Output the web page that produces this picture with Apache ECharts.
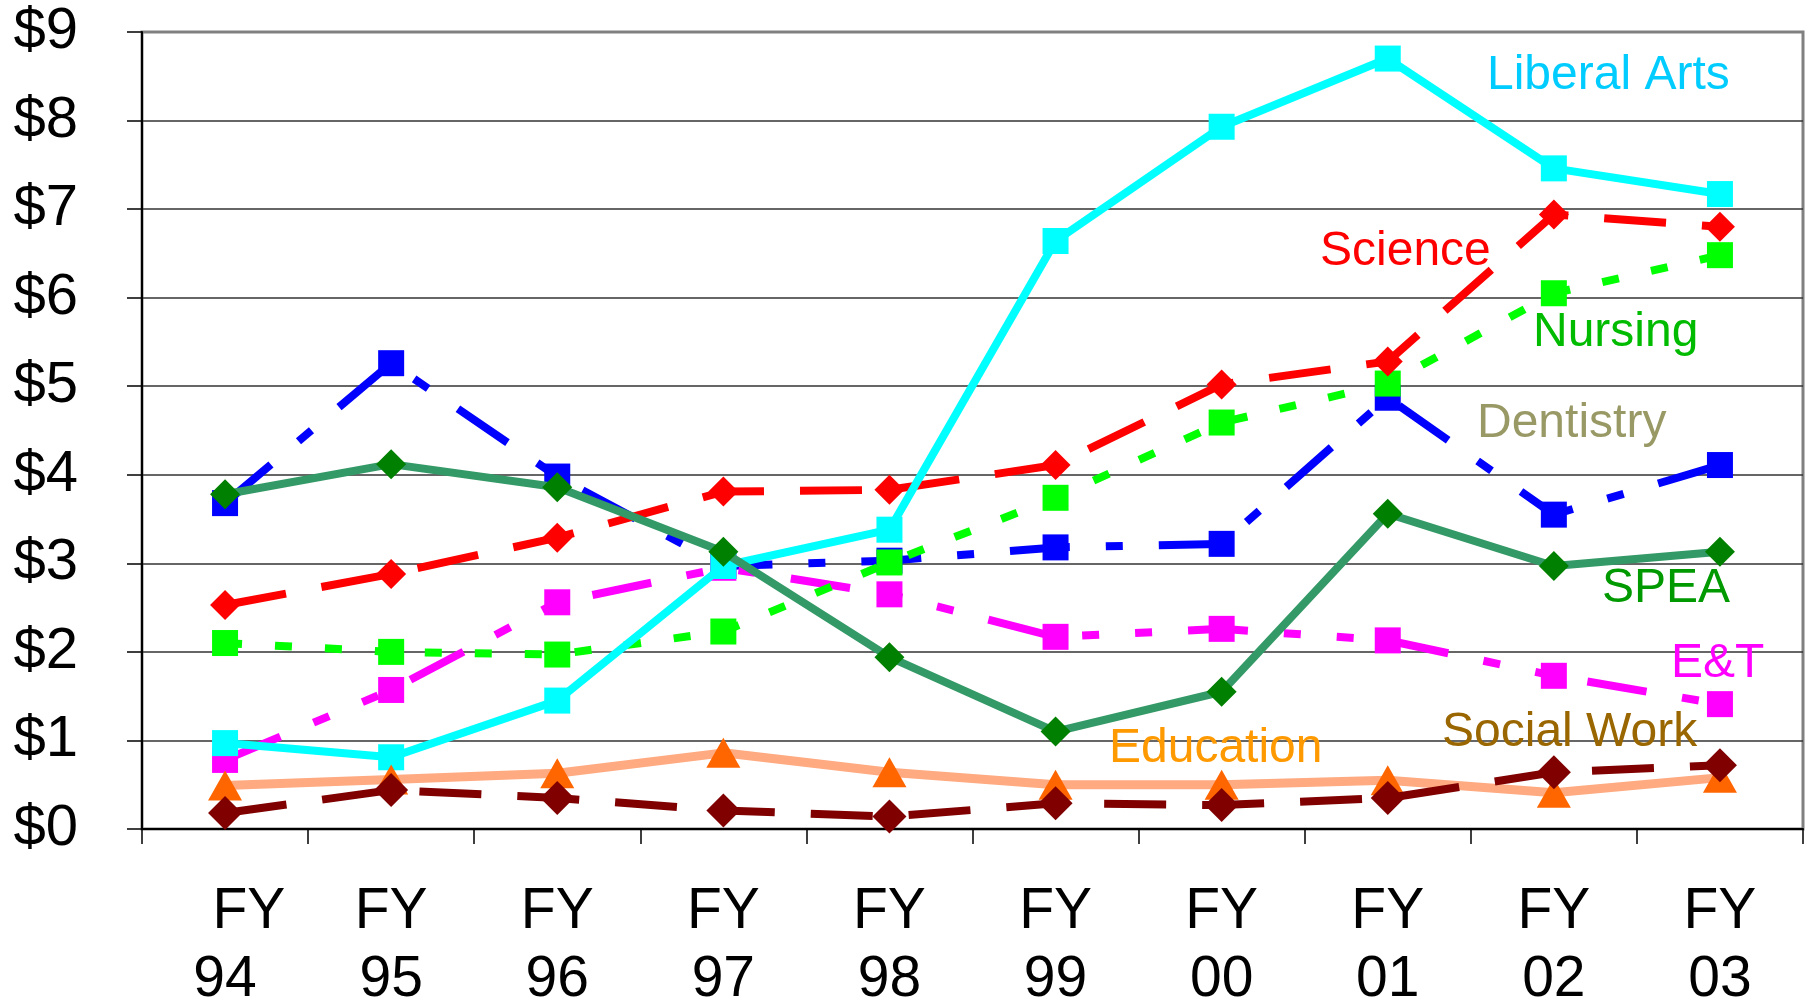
<!DOCTYPE html>
<html>
<head>
<meta charset="utf-8">
<script src="https://cdn.jsdelivr.net/npm/echarts@6/dist/echarts.min.js"></script>
<style>
html,body{margin:0;padding:0;background:#fff;}
#c{width:1810px;height:1003px;}
</style>
</head>
<body>
<div id="c"></div>
<script>
const categories = ['FY 94','FY 95','FY 96','FY 97','FY 98','FY 99','FY 00','FY 01','FY 02','FY 03'];
const yTicks = [0,1,2,3,4,5,6,7,8,9];

const dentistry  = [3.68, 5.26, 3.98, 2.97, 3.03, 3.18, 3.22, 4.87, 3.55, 4.11];
const et         = [0.78, 1.57, 2.56, 2.95, 2.65, 2.17, 2.26, 2.13, 1.73, 1.41];
const nursing    = [2.10, 2.00, 1.97, 2.23, 3.01, 3.74, 4.59, 5.03, 6.05, 6.48];
const science    = [2.53, 2.88, 3.29, 3.81, 3.83, 4.11, 5.02, 5.28, 6.94, 6.80];
const liberalArts= [0.97, 0.81, 1.45, 2.97, 3.38, 6.64, 7.93, 8.70, 7.46, 7.17];
const spea       = [3.78, 4.12, 3.86, 3.13, 1.94, 1.10, 1.55, 3.56, 2.97, 3.13];
const education  = [0.49, 0.56, 0.63, 0.86, 0.64, 0.50, 0.50, 0.55, 0.41, 0.58];
const socialWork = [0.18, 0.44, 0.35, 0.21, 0.14, 0.29, 0.27, 0.35, 0.64, 0.72];

const seriesLabels = [
  {text:'Liberal Arts', color:'#00CCFF', x:1487, y:76},
  {text:'Science',      color:'#FF0000', x:1320, y:252},
  {text:'Nursing',      color:'#00BB00', x:1533, y:333},
  {text:'Dentistry',    color:'#999966', x:1477, y:424},
  {text:'SPEA',         color:'#009900', x:1602, y:589},
  {text:'E&T',          color:'#FF00FF', x:1671, y:664},
  {text:'Social Work',  color:'#996600', x:1442, y:733},
  {text:'Education',    color:'#FF9900', x:1109, y:749}
];

const FONT = '"Liberation Sans", Arial, sans-serif';

function mk(name, data, lineColor, markColor, symbol, size, type, width, z) {
  return {
    name, type:'line', data, symbol, symbolSize:size, z,
    showSymbol:true, silent:true, animation:false,
    lineStyle:{color:lineColor, width:width, type:type, cap:'butt'},
    itemStyle:{color:markColor, borderWidth:0}
  };
}

const chart = echarts.init(document.getElementById('c'), null, {renderer:'canvas'});
chart.setOption({
  animation:false,
  backgroundColor:'#fff',
  grid:{left:142, right:7, top:32, bottom:174, containLabel:false, outerBoundsMode:'none',
    show:true, borderColor:'#808080', borderWidth:3, backgroundColor:'transparent'},
  xAxis:{
    type:'category', data:categories, boundaryGap:true,
    axisLine:{show:true, lineStyle:{color:'#000', width:2}},
    axisTick:{show:true, length:15, interval:0, lineStyle:{color:'#000', width:1.5}},
    axisLabel:{interval:0, fontSize:57, fontFamily:FONT, color:'#000', lineHeight:68, margin:49,
      formatter:(v,i)=>(i===0?'   ':'')+v.replace(' ','\n')},
    splitLine:{show:false}
  },
  yAxis:{
    type:'value', min:yTicks[0], max:yTicks[yTicks.length-1], interval:1,
    axisLine:{show:true, lineStyle:{color:'#000', width:2}},
    axisTick:{show:true, length:15, lineStyle:{color:'#000', width:1.5}},
    axisLabel:{fontSize:58, fontFamily:FONT, color:'#000', margin:64, formatter:v=>'$'+v},
    splitLine:{show:true, lineStyle:{color:['#333','#333','#333','#333','#333','#333','#333','#333','#333','#808080'], width:1.5}}
  },
  graphic: seriesLabels.map(l=>({
    type:'text', x:l.x, y:l.y, z:100, silent:true,
    style:{text:l.text, fill:l.color, font:'48px '+FONT, fontSize:48, fontFamily:FONT,
      align:'left', verticalAlign:'middle', textAlign:'left', textVerticalAlign:'middle'}
  })),
  series:[
    mk('Dentistry', dentistry, '#0000FF', '#0000FF', 'rect', 26, [60,36,17,36], 8, 2),
    mk('E&T', et, '#FF00FF', '#FF00FF', 'rect', 26, [60,36,17,36,17,36], 8, 3),
    mk('Nursing', nursing, '#00FF00', '#00FF00', 'rect', 26, [17,33], 8, 4),
    mk('Science', science, '#FF0000', '#FF0000', 'diamond', 30, [62,36], 8, 5),
    mk('Liberal Arts', liberalArts, '#00FFFF', '#00FFFF', 'rect', 26, 'solid', 8, 6),
    mk('SPEA', spea, '#339966', '#008000', 'diamond', 30, 'solid', 8, 7),
    mk('Education', education, '#FFAA80', '#FF6600', 'triangle', [34,30], 'solid', 9, 8),
    mk('Social Work', socialWork, '#800000', '#800000', 'diamond', 34, [62,36], 8, 9)
  ]
});
</script>
</body>
</html>
